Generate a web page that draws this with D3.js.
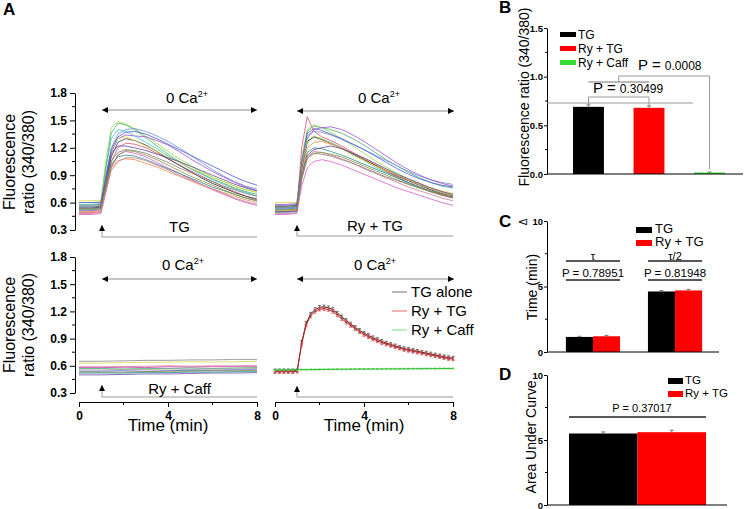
<!DOCTYPE html>
<html>
<head>
<meta charset="utf-8">
<script src="https://cdn.jsdelivr.net/npm/d3@7"></script>
<style>
  body { margin: 0; background: #fff; }
  svg { font-family: "Liberation Sans", Arial, sans-serif; }
</style>
</head>
<body>
<svg id="fig" width="745" height="509"></svg>
<script>
// ---- Panel A: single-cell traces (ratio 340/380) ----
const cellTimes = [0, 0.5, 0.98, 1.2, 1.45, 1.75, 2.1, 2.5, 3, 3.5, 4, 4.5, 5, 5.5, 6, 6.5, 7, 7.5, 8];
const cellColors = ["#9bd84a", "#44b36b", "#6f8fd8", "#9b4fd1", "#3fc1c9", "#e0506a", "#333333", "#d9d44a",
  "#d45bd0", "#2a8a8a", "#e88b3c", "#5a4aa0", "#7a7a7a", "#c97b9a", "#4b5bd6", "#8a8f3a"];

const tgCells = [
  [0.60, 0.60, 0.61, 1.05, 1.42, 1.49, 1.46, 1.41, 1.33, 1.25, 1.16, 1.08, 1.01, 0.94, 0.88, 0.83, 0.78, 0.74, 0.71],
  [0.56, 0.56, 0.57, 0.98, 1.36, 1.47, 1.45, 1.40, 1.31, 1.22, 1.13, 1.05, 0.98, 0.92, 0.86, 0.81, 0.76, 0.72, 0.69],
  [0.53, 0.53, 0.54, 0.85, 1.20, 1.35, 1.40, 1.41, 1.38, 1.33, 1.27, 1.20, 1.12, 1.04, 0.96, 0.89, 0.83, 0.78, 0.75],
  [0.51, 0.51, 0.52, 0.80, 1.15, 1.30, 1.34, 1.33, 1.32, 1.28, 1.23, 1.16, 1.08, 1.01, 0.94, 0.88, 0.82, 0.77, 0.73],
  [0.58, 0.58, 0.59, 0.95, 1.30, 1.40, 1.38, 1.33, 1.26, 1.19, 1.11, 1.04, 0.97, 0.91, 0.85, 0.80, 0.75, 0.71, 0.67],
  [0.49, 0.49, 0.50, 0.75, 1.05, 1.20, 1.25, 1.24, 1.20, 1.14, 1.08, 1.01, 0.95, 0.89, 0.83, 0.77, 0.72, 0.67, 0.63],
  [0.54, 0.54, 0.55, 0.80, 1.10, 1.26, 1.30, 1.28, 1.23, 1.16, 1.08, 1.01, 0.94, 0.87, 0.81, 0.76, 0.71, 0.67, 0.64],
  [0.62, 0.62, 0.62, 0.90, 1.18, 1.30, 1.32, 1.28, 1.22, 1.16, 1.10, 1.04, 0.98, 0.93, 0.88, 0.83, 0.78, 0.74, 0.72],
  [0.47, 0.47, 0.48, 0.70, 0.98, 1.12, 1.16, 1.14, 1.10, 1.04, 0.98, 0.92, 0.86, 0.80, 0.74, 0.69, 0.64, 0.60, 0.57],
  [0.52, 0.52, 0.53, 0.78, 1.02, 1.10, 1.12, 1.11, 1.07, 1.02, 0.97, 0.92, 0.87, 0.82, 0.77, 0.73, 0.69, 0.65, 0.62],
  [0.50, 0.50, 0.51, 0.74, 0.98, 1.06, 1.08, 1.07, 1.03, 0.99, 0.94, 0.89, 0.84, 0.79, 0.75, 0.71, 0.67, 0.63, 0.60],
  [0.55, 0.55, 0.56, 0.85, 1.14, 1.22, 1.22, 1.20, 1.17, 1.13, 1.09, 1.05, 1.00, 0.95, 0.90, 0.85, 0.80, 0.76, 0.73],
  [0.57, 0.57, 0.58, 0.82, 1.05, 1.15, 1.18, 1.17, 1.14, 1.09, 1.04, 0.98, 0.93, 0.88, 0.83, 0.78, 0.74, 0.70, 0.67],
  [0.48, 0.48, 0.49, 0.72, 0.95, 1.05, 1.09, 1.09, 1.06, 1.01, 0.96, 0.90, 0.85, 0.80, 0.75, 0.70, 0.65, 0.61, 0.58],
  [0.60, 0.60, 0.60, 0.88, 1.18, 1.32, 1.37, 1.38, 1.35, 1.30, 1.24, 1.18, 1.12, 1.06, 1.00, 0.94, 0.88, 0.83, 0.79],
  [0.53, 0.53, 0.54, 0.76, 1.00, 1.12, 1.17, 1.16, 1.12, 1.07, 1.01, 0.95, 0.89, 0.84, 0.79, 0.74, 0.69, 0.65, 0.62]
];

const ryTgCells = [
  [0.55, 0.55, 0.56, 1.10, 1.40, 1.45, 1.42, 1.37, 1.30, 1.22, 1.14, 1.06, 0.99, 0.92, 0.86, 0.81, 0.76, 0.72, 0.69],
  [0.52, 0.52, 0.53, 1.00, 1.38, 1.44, 1.42, 1.40, 1.36, 1.30, 1.23, 1.15, 1.07, 1.00, 0.93, 0.87, 0.82, 0.78, 0.76],
  [0.57, 0.57, 0.58, 1.02, 1.33, 1.38, 1.37, 1.34, 1.29, 1.24, 1.18, 1.12, 1.06, 1.00, 0.94, 0.89, 0.85, 0.82, 0.80],
  [0.58, 0.58, 0.59, 0.95, 1.30, 1.40, 1.42, 1.43, 1.40, 1.34, 1.27, 1.19, 1.11, 1.03, 0.96, 0.90, 0.85, 0.81, 0.78],
  [0.49, 0.49, 0.50, 0.95, 1.25, 1.32, 1.30, 1.26, 1.20, 1.13, 1.06, 0.99, 0.93, 0.87, 0.81, 0.76, 0.72, 0.68, 0.65],
  [0.50, 0.50, 0.51, 1.20, 1.54, 1.38, 1.32, 1.28, 1.22, 1.15, 1.08, 1.01, 0.94, 0.88, 0.82, 0.77, 0.72, 0.68, 0.65],
  [0.56, 0.56, 0.57, 0.98, 1.27, 1.32, 1.29, 1.25, 1.19, 1.13, 1.07, 1.01, 0.95, 0.89, 0.84, 0.79, 0.74, 0.70, 0.67],
  [0.60, 0.60, 0.60, 1.00, 1.28, 1.33, 1.30, 1.25, 1.19, 1.12, 1.06, 1.00, 0.95, 0.90, 0.85, 0.80, 0.76, 0.73, 0.70],
  [0.47, 0.47, 0.48, 0.78, 0.98, 1.05, 1.07, 1.05, 1.01, 0.96, 0.91, 0.86, 0.81, 0.76, 0.72, 0.68, 0.64, 0.60, 0.57],
  [0.53, 0.53, 0.54, 0.90, 1.15, 1.20, 1.19, 1.16, 1.12, 1.07, 1.02, 0.97, 0.92, 0.87, 0.82, 0.77, 0.73, 0.69, 0.66],
  [0.51, 0.51, 0.52, 0.92, 1.20, 1.26, 1.27, 1.24, 1.20, 1.14, 1.08, 1.02, 0.96, 0.90, 0.85, 0.80, 0.75, 0.71, 0.68],
  [0.50, 0.50, 0.51, 0.88, 1.12, 1.18, 1.20, 1.22, 1.19, 1.14, 1.09, 1.03, 0.97, 0.91, 0.86, 0.81, 0.76, 0.72, 0.69],
  [0.55, 0.55, 0.56, 0.90, 1.10, 1.14, 1.13, 1.11, 1.07, 1.03, 0.98, 0.93, 0.88, 0.84, 0.80, 0.76, 0.72, 0.69, 0.66],
  [0.48, 0.48, 0.49, 0.85, 1.10, 1.16, 1.15, 1.12, 1.08, 1.03, 0.97, 0.92, 0.87, 0.82, 0.77, 0.73, 0.69, 0.65, 0.62],
  [0.54, 0.54, 0.55, 1.05, 1.36, 1.41, 1.39, 1.35, 1.30, 1.24, 1.18, 1.11, 1.04, 0.97, 0.91, 0.86, 0.82, 0.79, 0.77],
  [0.52, 0.52, 0.53, 0.86, 1.08, 1.14, 1.15, 1.13, 1.10, 1.05, 1.00, 0.95, 0.90, 0.85, 0.80, 0.76, 0.72, 0.69, 0.67]
];

const caffTimes = [0, 1, 2, 3, 4, 5, 6, 7, 8];
const caffColors = ["#8a8a8a", "#d9d44a", "#e07aa0", "#c040a0", "#44b36b", "#9a9a9a", "#4b5bd6", "#8a8f3a", "#6a4ab0", "#2a8a8a"];
const ryCaffCells = [
  [0.65, 0.65, 0.655, 0.66, 0.66, 0.665, 0.665, 0.67, 0.67],
  [0.63, 0.63, 0.635, 0.64, 0.64, 0.645, 0.64, 0.645, 0.65],
  [0.59, 0.59, 0.59, 0.595, 0.60, 0.595, 0.60, 0.60, 0.605],
  [0.58, 0.58, 0.585, 0.58, 0.59, 0.585, 0.59, 0.59, 0.59],
  [0.57, 0.57, 0.565, 0.57, 0.57, 0.575, 0.57, 0.575, 0.58],
  [0.555, 0.555, 0.56, 0.56, 0.565, 0.56, 0.565, 0.565, 0.57],
  [0.54, 0.54, 0.545, 0.54, 0.545, 0.55, 0.55, 0.555, 0.555],
  [0.53, 0.53, 0.53, 0.535, 0.54, 0.54, 0.545, 0.545, 0.55],
  [0.50, 0.50, 0.505, 0.51, 0.51, 0.515, 0.52, 0.52, 0.525],
  [0.52, 0.52, 0.52, 0.525, 0.525, 0.53, 0.53, 0.535, 0.535]
];

// ---- Panel A: mean traces ----
const meanTimes = [0, 0.2, 0.4, 0.6, 0.8, 1.0, 1.2, 1.4, 1.6, 1.8, 2.0, 2.2, 2.4, 2.6, 2.8, 3.0, 3.2, 3.4, 3.6, 3.8,
  4.0, 4.2, 4.4, 4.6, 4.8, 5.0, 5.2, 5.4, 5.6, 5.8, 6.0, 6.2, 6.4, 6.6, 6.8, 7.0, 7.2, 7.4, 7.6, 7.8, 8.0];
const tgAloneMean = [0.545, 0.545, 0.545, 0.545, 0.545, 0.55, 0.86, 1.07, 1.17, 1.22, 1.245, 1.25, 1.24, 1.22, 1.18,
  1.14, 1.10, 1.06, 1.025, 0.99, 0.96, 0.935, 0.91, 0.89, 0.87, 0.85, 0.835, 0.82, 0.805, 0.79, 0.78, 0.77, 0.76,
  0.75, 0.74, 0.73, 0.72, 0.71, 0.70, 0.69, 0.685];
const ryTgMean = [0.535, 0.535, 0.535, 0.535, 0.535, 0.54, 0.84, 1.05, 1.15, 1.20, 1.225, 1.23, 1.22, 1.20, 1.16,
  1.12, 1.08, 1.045, 1.01, 0.975, 0.945, 0.92, 0.895, 0.875, 0.855, 0.84, 0.825, 0.81, 0.795, 0.78, 0.77, 0.76,
  0.75, 0.74, 0.73, 0.72, 0.71, 0.70, 0.69, 0.68, 0.675];
const ryCaffMean = [0.555, 0.555, 0.556, 0.556, 0.557, 0.557, 0.558, 0.558, 0.559, 0.559, 0.56, 0.56, 0.561, 0.561,
  0.562, 0.562, 0.562, 0.563, 0.563, 0.564, 0.564, 0.564, 0.565, 0.565, 0.565, 0.566, 0.566, 0.566, 0.567, 0.567,
  0.567, 0.568, 0.568, 0.568, 0.569, 0.569, 0.569, 0.57, 0.57, 0.57, 0.57];
const tgAloneSem = 0.02;
const ryTgSem = 0.02;
const ryCaffSem = 0.006;

// ---- Panel B ----
const bGroups = ["TG", "Ry + TG", "Ry + Caff"];
const bMeans = [0.69, 0.68, 0.015];
const bSems = [0.02, 0.02, 0.005];

// ---- Panel C ----
const cGroups = ["τ", "τ/2"];
const cSeries = ["TG", "Ry + TG"];
const cMeansTG = [1.15, 4.62];
const cMeansRy = [1.2, 4.7];
const cSemsTG = [0.05, 0.07];
const cSemsRy = [0.07, 0.08];
const cPvalues = ["P = 0.78951", "P = 0.81948"];

// ---- Panel D ----
const dSeries = ["TG", "Ry + TG"];
const dMeans = [5.5, 5.6];
const dSems = [0.12, 0.15];

const barColors = { "TG": "#000000", "Ry + TG": "#ff0000", "Ry + Caff": "#33dd33" };

const svg = d3.select("#fig");

svg.append("defs").append("marker")
  .attr("id", "head")
  .attr("viewBox", "0 0 10 10")
  .attr("refX", 10).attr("refY", 5)
  .attr("markerWidth", 7).attr("markerHeight", 6)
  .attr("markerUnits", "userSpaceOnUse")
  .attr("orient", "auto-start-reverse")
  .append("path").attr("d", "M0,0L10,5L0,10Z").attr("fill", "#000");

// ================= Panel A =================
const xL = d3.scaleLinear().domain([0, 8]).range([79, 257]);
const xR = d3.scaleLinear().domain([0, 8]).range([275, 453]);
const yTop = d3.scaleLinear().domain([0.3, 1.8]).range([230, 93]);
const yBot = d3.scaleLinear().domain([0.3, 1.8]).range([393, 257]);

function drawCells(cells, times, colors, x, y) {
  const line = d3.line().x((d, i) => x(times[i])).y(d => y(d));
  svg.append("g").selectAll("path").data(cells).join("path")
    .attr("d", line)
    .attr("fill", "none")
    .attr("stroke", (d, i) => colors[i % colors.length])
    .attr("stroke-width", 0.8);
}

function yAxisA(y) {
  const g = svg.append("g").attr("transform", "translate(75,0)")
    .call(d3.axisLeft(y).tickValues([0.3, 0.6, 0.9, 1.2, 1.5, 1.8]).tickSize(5).tickSizeOuter(0)
      .tickPadding(3).tickFormat(d3.format(".1f")));
  g.selectAll(".minor").data([0.45, 0.75, 1.05, 1.35, 1.65]).join("line")
    .attr("x2", -3).attr("y1", y).attr("y2", y).attr("stroke", "#000");
  g.attr("font-family", null);
  g.selectAll("text").attr("font-size", 12).attr("font-weight", "bold");
}

function xAxisA(x) {
  const g = svg.append("g").attr("transform", "translate(0,402)")
    .call(d3.axisBottom(x).tickValues([0, 4, 8]).tickSize(5).tickSizeOuter(0).tickPadding(4));
  g.selectAll(".minor").data([2, 6]).join("line")
    .attr("y2", 3).attr("x1", x).attr("x2", x).attr("stroke", "#000");
  g.attr("font-family", null);
  g.selectAll("text").attr("font-size", 12).attr("font-weight", "bold");
  // the "4" tick label sits inside the title, as in the original figure
  svg.append("text").attr("x", x(4)).attr("y", 431).attr("text-anchor", "middle")
    .attr("font-size", 17).text("Time (min)");
}

function caLabel(x, yText, yArrow, x1, x2) {
  const t = svg.append("text").attr("x", x).attr("y", yText).attr("text-anchor", "middle").attr("font-size", 15);
  t.append("tspan").text("0 Ca");
  t.append("tspan").attr("dy", -6).attr("font-size", 9).text("2+");
  svg.append("line").attr("x1", x1).attr("x2", x2).attr("y1", yArrow).attr("y2", yArrow)
    .attr("stroke", "#888").attr("marker-start", "url(#head)").attr("marker-end", "url(#head)");
}

function addBracket(x1, x2, yTip, yLine, label, yText) {
  svg.append("path").attr("d", `M${x1},${yTip}V${yLine}H${x2}`).attr("fill", "none")
    .attr("stroke", "#999").attr("marker-start", "url(#head)");
  svg.append("text").attr("x", (x1 + x2) / 2).attr("y", yText).attr("text-anchor", "middle")
    .attr("font-size", 15).text(label);
}

function yLabelA(cy) {
  svg.append("text").attr("transform", `translate(15,${cy}) rotate(-90)`).attr("text-anchor", "middle")
    .attr("font-size", 16).text("Fluorescence");
  svg.append("text").attr("transform", `translate(34,${cy}) rotate(-90)`).attr("text-anchor", "middle")
    .attr("font-size", 16).text("ratio (340/380)");
}

drawCells(tgCells, cellTimes, cellColors, xL, yTop);
drawCells(ryTgCells, cellTimes, cellColors, xR, yTop);
drawCells(ryCaffCells, caffTimes, caffColors, xL, yBot);

function drawMean(values, sem, color, lineColor) {
  const g = svg.append("g");
  g.selectAll(".err").data(values).join("line")
    .attr("x1", (d, i) => xR(meanTimes[i])).attr("x2", (d, i) => xR(meanTimes[i]))
    .attr("y1", d => yBot(d - sem)).attr("y2", d => yBot(d + sem))
    .attr("stroke", color).attr("stroke-width", 0.8);
  g.selectAll(".cap").data(values.flatMap((d, i) => [[i, d + sem], [i, d - sem]])).join("line")
    .attr("x1", d => xR(meanTimes[d[0]]) - 1.5).attr("x2", d => xR(meanTimes[d[0]]) + 1.5)
    .attr("y1", d => yBot(d[1])).attr("y2", d => yBot(d[1]))
    .attr("stroke", color).attr("stroke-width", 0.8);
  g.append("path").datum(values)
    .attr("d", d3.line().x((d, i) => xR(meanTimes[i])).y(d => yBot(d)))
    .attr("fill", "none").attr("stroke", lineColor).attr("stroke-width", 1);
}
drawMean(tgAloneMean, tgAloneSem, "#555", "#333");
drawMean(ryTgMean, ryTgSem, "#e05050", "#cc2222");
drawMean(ryCaffMean, ryCaffSem, "#66dd66", "#33bb33");

yAxisA(yTop);
yAxisA(yBot);
xAxisA(xL);
xAxisA(xR);
yLabelA(162);
yLabelA(325);

caLabel(187, 103, 110, 102, 257);
caLabel(379, 103, 111, 297, 454);
caLabel(183, 270, 279, 102, 257);
caLabel(375, 270, 279, 297, 454);

addBracket(102, 257, 225, 237, "TG", 232);
addBracket(297, 453, 225, 236, "Ry + TG", 231);
addBracket(102, 257, 385, 397, "Ry + Caff", 394);
svg.append("path").attr("d", "M297,386V397H453").attr("fill", "none")
  .attr("stroke", "#999").attr("marker-start", "url(#head)");

// legend of mean traces
const meanLegend = [["TG alone", "#888"], ["Ry + TG", "#f08080"], ["Ry + Caff", "#88e888"]];
meanLegend.forEach((d, i) => {
  svg.append("line").attr("x1", 392).attr("x2", 407).attr("y1", 292 + i * 19).attr("y2", 292 + i * 19)
    .attr("stroke", d[1]).attr("stroke-width", 1.2);
  svg.append("text").attr("x", 411).attr("y", 297 + i * 19).attr("font-size", 15).text(d[0]);
});

svg.append("text").attr("x", 3).attr("y", 15).attr("font-size", 17).attr("font-weight", "bold").text("A");

// ================= common for right-hand panels =================
function yAxisBar(y, ticks, minor, fmt) {
  const g = svg.append("g").attr("transform", "translate(547,0)")
    .call(d3.axisLeft(y).tickValues(ticks).tickSize(3).tickSizeOuter(0).tickPadding(1).tickFormat(fmt));
  g.selectAll(".minor").data(minor).join("line")
    .attr("x2", -2).attr("y1", y).attr("y2", y).attr("stroke", "#000");
  g.attr("font-family", null);
  g.selectAll("text").attr("font-size", 9.5).attr("font-weight", "bold");
}

function errorBar(x, y, v, s, w) {
  svg.append("line").attr("x1", x).attr("x2", x).attr("y1", y(v)).attr("y2", y(v + s)).attr("stroke", "#777");
  svg.append("line").attr("x1", x - w).attr("x2", x + w).attr("y1", y(v + s)).attr("y2", y(v + s)).attr("stroke", "#777");
}

// ================= Panel B =================
const yB = d3.scaleLinear().domain([0, 1.5]).range([174, 28]);
const xB = d3.scaleBand().domain(bGroups).range([547, 751]).paddingInner(0.49).paddingOuter(0.43);

svg.append("g").selectAll("rect").data(bGroups).join("rect")
  .attr("x", d => xB(d)).attr("width", xB.bandwidth())
  .attr("y", (d, i) => yB(bMeans[i])).attr("height", (d, i) => yB(0) - yB(bMeans[i]))
  .attr("fill", d => barColors[d]);
bGroups.forEach((d, i) => errorBar(xB(d) + xB.bandwidth() / 2, yB, bMeans[i], bSems[i], 2));

yAxisBar(yB, [0, 0.5, 1.0, 1.5], [0.25, 0.75, 1.25], d3.format(".1f"));
svg.append("line").attr("x1", 547).attr("x2", 743).attr("y1", 174).attr("y2", 174).attr("stroke", "#000");

svg.append("text").attr("transform", "translate(529,97) rotate(-90)").attr("text-anchor", "middle")
  .attr("font-size", 14).text("Fluorescence ratio (340/380)");
svg.append("text").attr("x", 499).attr("y", 13).attr("font-size", 17).attr("font-weight", "bold").text("B");

bGroups.forEach((d, i) => {
  svg.append("rect").attr("x", 560).attr("y", 32 + i * 14).attr("width", 16).attr("height", 5).attr("fill", barColors[d]);
  svg.append("text").attr("x", 578).attr("y", 39 + i * 14).attr("font-size", 12).text(d);
});

// significance brackets
const cB1 = xB("TG") + xB.bandwidth() / 2;
const cB2 = xB("Ry + TG") + xB.bandwidth() / 2;
const cB3 = xB("Ry + Caff") + xB.bandwidth() / 2;
const sig = svg.append("g").attr("fill", "none").attr("stroke", "#999");
sig.append("line").attr("x1", 547).attr("x2", 693).attr("y1", 103).attr("y2", 103);
sig.append("path").attr("d", `M${cB1},${yB(0.71)}V97H${cB2}V${yB(0.7)}`);
sig.append("line").attr("x1", cB1).attr("x2", cB2).attr("y1", 82).attr("y2", 82).attr("stroke", "#bbb").attr("stroke-width", 2);
sig.append("path").attr("d", `M${(cB1 + cB2) / 2},82V76H${cB3}V${yB(0.05)}`);

function pText(x, y, value) {
  const t = svg.append("text").attr("x", x).attr("y", y).attr("font-size", 15);
  t.append("tspan").text("P = ");
  t.append("tspan").attr("font-size", 12).text(value);
}
pText(593, 93, "0.30499");
pText(638, 70, "0.0008");

// ================= Panel C =================
const yC = d3.scaleLinear().domain([0, 10]).range([352, 221]);
const xC = d3.scaleBand().domain(cGroups).range([547, 721]).paddingInner(0.34).paddingOuter(0.23);
const xCi = d3.scaleBand().domain(cSeries).range([0, xC.bandwidth()]);

const cData = cGroups.flatMap((g, i) => [
  { g, s: "TG", v: cMeansTG[i], e: cSemsTG[i] },
  { g, s: "Ry + TG", v: cMeansRy[i], e: cSemsRy[i] }
]);
svg.append("g").selectAll("rect").data(cData).join("rect")
  .attr("x", d => xC(d.g) + xCi(d.s)).attr("width", xCi.bandwidth())
  .attr("y", d => yC(d.v)).attr("height", d => yC(0) - yC(d.v))
  .attr("fill", d => barColors[d.s]);
cData.forEach(d => errorBar(xC(d.g) + xCi(d.s) + xCi.bandwidth() / 2, yC, d.v, d.e, 2));

yAxisBar(yC, [0, 5, 10], [2.5, 7.5], d3.format("d"));
svg.append("line").attr("x1", 547).attr("x2", 719).attr("y1", 352).attr("y2", 352).attr("stroke", "#000");

cGroups.forEach((g, i) => {
  const x0 = xC(g), x1 = xC(g) + xC.bandwidth();
  svg.append("line").attr("x1", x0).attr("x2", x1).attr("y1", 261).attr("y2", 261).attr("stroke", "#222").attr("stroke-width", 1.3);
  svg.append("line").attr("x1", x0).attr("x2", x1).attr("y1", 280).attr("y2", 280).attr("stroke", "#222").attr("stroke-width", 1.3);
  svg.append("text").attr("x", (x0 + x1) / 2).attr("y", 260).attr("text-anchor", "middle").attr("font-size", 11).text(g);
  svg.append("text").attr("x", (x0 + x1) / 2).attr("y", 277).attr("text-anchor", "middle").attr("font-size", 11.5).text(cPvalues[i]);
});

cSeries.forEach((d, i) => {
  svg.append("rect").attr("x", 636).attr("y", 227 + i * 13).attr("width", 16).attr("height", 6).attr("fill", barColors[d]);
  svg.append("text").attr("x", 655).attr("y", 233 + i * 13).attr("font-size", 13).text(d);
});

svg.append("text").attr("transform", "translate(537,287) rotate(-90)").attr("text-anchor", "middle")
  .attr("font-size", 14).text("Time (min)");
svg.append("text").attr("transform", "translate(527,222) rotate(-90)").attr("text-anchor", "middle")
  .attr("font-size", 10).text("Δ");
svg.append("text").attr("x", 499).attr("y", 227).attr("font-size", 17).attr("font-weight", "bold").text("C");

// ================= Panel D =================
const yD = d3.scaleLinear().domain([0, 10]).range([505, 375]);
const xD = d3.scaleBand().domain(dSeries).range([569, 706]);

svg.append("g").selectAll("rect").data(dSeries).join("rect")
  .attr("x", d => xD(d)).attr("width", xD.bandwidth())
  .attr("y", (d, i) => yD(dMeans[i])).attr("height", (d, i) => yD(0) - yD(dMeans[i]))
  .attr("fill", d => barColors[d]);
dSeries.forEach((d, i) => errorBar(xD(d) + xD.bandwidth() / 2, yD, dMeans[i], dSems[i], 2));

yAxisBar(yD, [0, 5, 10], [2.5, 7.5], d3.format("d"));
svg.append("line").attr("x1", 547).attr("x2", 727).attr("y1", 505).attr("y2", 505).attr("stroke", "#000");

svg.append("line").attr("x1", 569).attr("x2", 706).attr("y1", 417).attr("y2", 417).attr("stroke", "#222").attr("stroke-width", 1.3);
svg.append("text").attr("x", 642).attr("y", 412).attr("text-anchor", "middle").attr("font-size", 11).text("P = 0.37017");

dSeries.forEach((d, i) => {
  svg.append("rect").attr("x", 668).attr("y", 378 + i * 13).attr("width", 15).attr("height", 6).attr("fill", barColors[d]);
  svg.append("text").attr("x", 685).attr("y", 384 + i * 13).attr("font-size", 11.5).text(d);
});

svg.append("text").attr("transform", "translate(536,437) rotate(-90)").attr("text-anchor", "middle")
  .attr("font-size", 14).text("Area Under Curve");
svg.append("text").attr("x", 499).attr("y", 380).attr("font-size", 17).attr("font-weight", "bold").text("D");
</script>
</body>
</html>
